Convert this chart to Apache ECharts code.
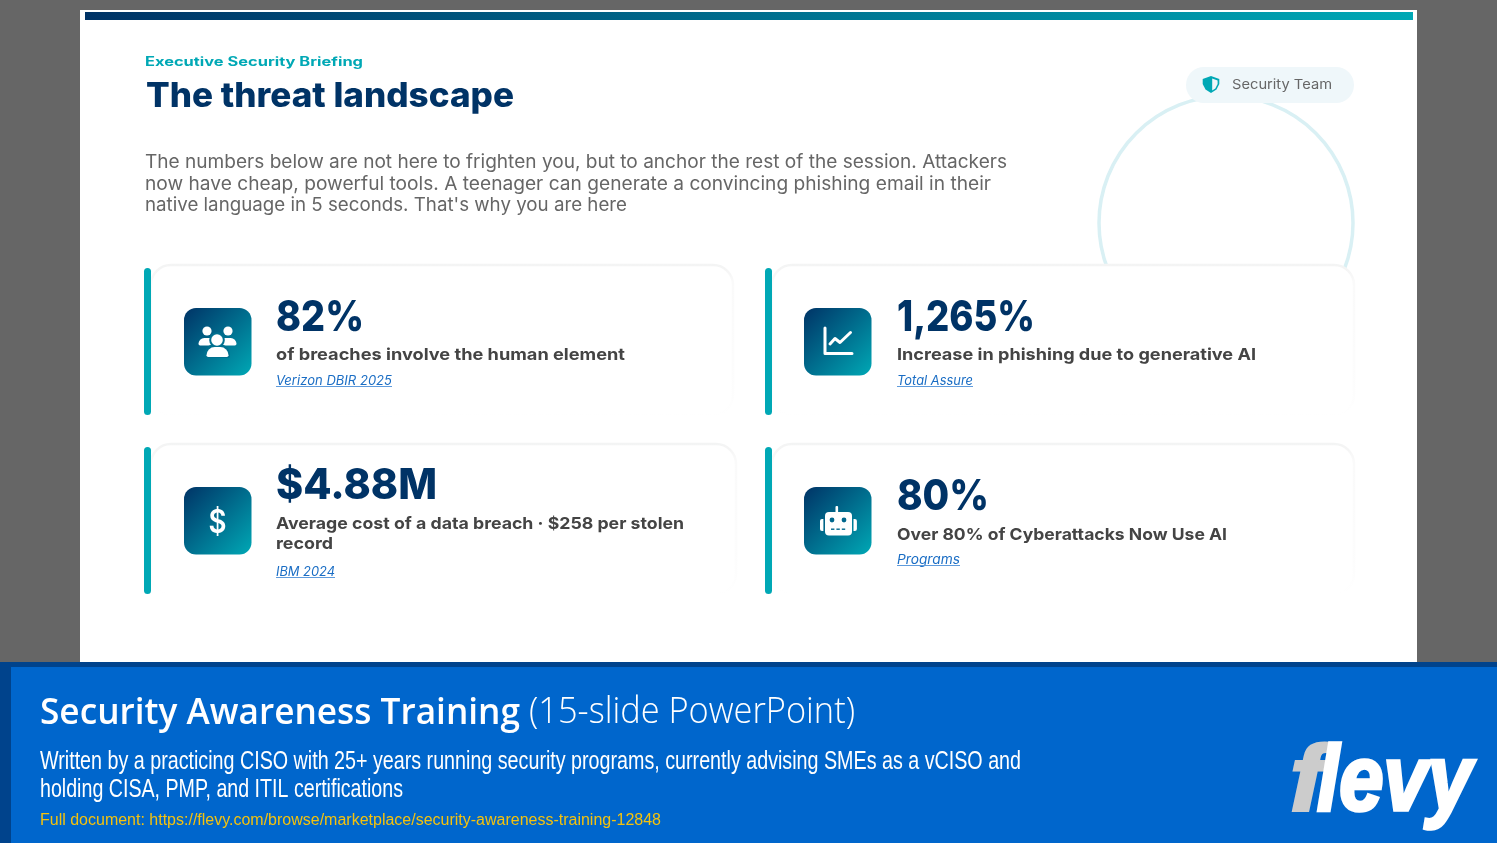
<!DOCTYPE html>
<html>
<head>
<meta charset="utf-8">
<title>The threat landscape</title>
<script src="https://cdn.jsdelivr.net/npm/echarts@6/dist/echarts.min.js"></script>
<style>
  html, body { margin: 0; padding: 0; background: #666; }
  #main { width: 1497px; height: 843px; }
</style>
</head>
<body>
<div id="main"></div>
<script>
// slide copy
const eyebrow = 'Executive Security Briefing';
const slideTitle = 'The threat landscape';
const badgeText = 'Security Team';
const introLines = [
  'The numbers below are not here to frighten you, but to anchor the rest of the session. Attackers',
  'now have cheap, powerful tools. A teenager can generate a convincing phishing email in their',
  "native language in 5 seconds. That's why you are here"
];

// the four stat cards
const statValues = ['82%', '1,265%', '$4.88M', '80%'];
const statLabels = [
  ['of breaches involve the human element'],
  ['Increase in phishing due to generative AI'],
  ['Average cost of a data breach · $258 per stolen', 'record'],
  ['Over 80% of Cyberattacks Now Use AI']
];
const statSources = ['Verizon DBIR 2025', 'Total Assure', 'IBM 2024', 'Programs'];

// banner copy
const bannerBold = 'Security Awareness Training';
const bannerLight = '(15-slide PowerPoint)';
const bannerLines = [
  'Written by a practicing CISO with 25+ years running security programs, currently advising SMEs as a vCISO and',
  'holding CISA, PMP, and ITIL certifications'
];
const bannerLink = 'Full document: https://flevy.com/browse/marketplace/security-awareness-training-12848';

const NAVY = '#003366', TEAL = '#00a8b5', GREY = '#666666', INK = '#444444', LINK = '#1a6dc4';
const SANS = 'Inter, sans-serif';

const measure = document.createElement('canvas').getContext('2d');

// text squeezed/stretched to the pixel width it has in the slide (no Montserrat here)
function label(text, x, y, font, fill, width) {
  measure.font = font;
  const w = measure.measureText(text).width;
  return {
    type: 'text', x: x, y: y, scaleX: width ? width / w : 1,
    style: { text: text, x: 0, y: 0, font: font, fill: fill, textAlign: 'left', textVerticalAlign: 'middle', verticalAlign: 'middle' }
  };
}
const rect = (x, y, w, h, fill, r, extra) => ({ type: 'rect', shape: { x: x, y: y, width: w, height: h, r: r || 0 }, style: Object.assign({ fill: fill }, extra) });
const dot = (cx, cy, r, fill) => ({ type: 'circle', shape: { cx: cx, cy: cy, r: r }, style: { fill: fill } });
const stroke = (points, width) => ({ type: 'polyline', shape: { points: points }, style: { stroke: '#fff', lineWidth: width, fill: null, lineCap: 'round', lineJoin: 'round' } });

// icons, drawn relative to the top left of their 67px tile
function peopleIcon(x, y) {
  const side = (cx) => [dot(x + cx, y + 23, 4.6, '#fff'), rect(x + cx - 8.5, y + 30, 17, 7.5, '#fff', [7, 7, 2, 2])];
  return side(23).concat(side(44), [
    dot(x + 33, y + 32, 7.8, '#00708f'),
    rect(x + 20, y + 36, 26, 14, '#00708f', [11, 11, 2, 2]),
    dot(x + 33, y + 32, 5.8, '#fff'),
    rect(x + 22.5, y + 39, 22, 10, '#fff', [9.5, 9.5, 2, 2])
  ]);
}
function chartIcon(x, y) {
  return [
    stroke([[x + 21, y + 20], [x + 21, y + 45.5], [x + 48, y + 45.5]], 3),
    stroke([[x + 26, y + 36], [x + 31, y + 30.5], [x + 36, y + 34.5], [x + 46.5, y + 24.5]], 3)
  ];
}
function dollarIcon(x, y) {
  return [label('$', x + 24.5, y + 36, '600 33px Inter, sans-serif', '#fff', 18)];
}
function robotIcon(x, y) {
  const eye = '#00678d';
  return [
    rect(x + 31.5, y + 19, 2.6, 7, '#fff', 1),
    rect(x + 21, y + 25, 27, 23.5, '#fff', 4),
    rect(x + 16, y + 32, 3.4, 12, '#fff', [2, 0, 0, 2]),
    rect(x + 49.5, y + 32, 3.4, 12, '#fff', [0, 2, 2, 0]),
    dot(x + 28, y + 33, 2.4, eye),
    dot(x + 40, y + 33, 2.4, eye),
    rect(x + 27, y + 41.5, 3.4, 1.4, eye),
    rect(x + 32.4, y + 41.5, 3.4, 1.4, eye),
    rect(x + 37.8, y + 41.5, 3.4, 1.4, eye)
  ];
}

// layout per card: tile origin, right edge, text line positions [centre y, width]
const cardLayout = [
  { x: 144, y: 268, right: 733, icon: peopleIcon, tile: [184, 308], tx: 276, value: [318, 88], lines: [[355, 349]], src: [381, 116] },
  { x: 765, y: 268, right: 1354, icon: chartIcon, tile: [804, 308], tx: 897, value: [318, 138], lines: [[355, 359]], src: [381, 76] },
  { x: 144, y: 447, right: 736, icon: dollarIcon, tile: [184, 487], tx: 276, value: [486, 161], lines: [[524, 408], [544, 57]], src: [572, 59] },
  { x: 765, y: 447, right: 1354, icon: robotIcon, tile: [804, 487], tx: 897, value: [497, 92], lines: [[535, 330]], src: [560, 63] }
];

function buildCard(i) {
  const c = cardLayout[i];
  const fade = new echarts.graphic.LinearGradient(0, 0, 0, 1, [
    { offset: 0, color: '#f3f4f4' }, { offset: 0.04, color: '#f5f5f5' }, { offset: 0.12, color: '#fafafa' }, { offset: 0.85, color: '#fdfdfd' }, { offset: 1, color: '#ffffff' }
  ]);
  const tileFill = new echarts.graphic.LinearGradient(0, 0, 1, 1, [
    { offset: 0, color: NAVY }, { offset: 1, color: TEAL }
  ]);
  let els = [
    rect(c.x + 7, c.y - 3, c.right - c.x - 7, 150, '#fff', 20, { stroke: fade, lineWidth: 2.5 }),
    rect(c.x, c.y, 7, 147, TEAL, 3.5),
    rect(c.tile[0], c.tile[1], 67.5, 67.5, tileFill, 12)
  ];
  els = els.concat(c.icon(c.tile[0], c.tile[1]));
  els.push(label(statValues[i], c.tx, c.value[0], '800 43px ' + SANS, NAVY, c.value[1]));
  statLabels[i].forEach((line, k) => {
    els.push(label(line, c.tx, c.lines[k][0], '700 16.5px ' + SANS, INK, c.lines[k][1]));
  });
  els.push(label(statSources[i], c.tx, c.src[0], 'italic 400 13px ' + SANS, LINK, c.src[1]));
  els.push({ type: 'line', shape: { x1: c.tx, y1: c.src[0] + 5.5, x2: c.tx + c.src[1], y2: c.src[0] + 5.5 }, style: { stroke: '#5f9bdc', lineWidth: 1 } });
  return els;
}

const topBar = new echarts.graphic.LinearGradient(0, 0, 1, 0, [
  { offset: 0, color: NAVY }, { offset: 1, color: TEAL }
]);

let elements = [
  rect(80, 10, 1337, 660, '#fff'),
  rect(85, 12, 1328, 8, topBar),
  { type: 'circle', shape: { cx: 1226, cy: 223, r: 127 }, style: { fill: null, stroke: '#d9f0f4', lineWidth: 3.5 } },
  rect(1186, 67, 168, 36, '#eff7fa', 18),
  { type: 'polygon', shape: { points: [[1211, 76], [1219.3, 79], [1219.3, 84], [1216.5, 89.5], [1211, 93], [1205.5, 89.5], [1202.7, 84], [1202.7, 79]] }, style: { fill: TEAL } },
  { type: 'polygon', shape: { points: [[1212.2, 78.6], [1217.6, 80.4], [1217.6, 84], [1215.3, 88.4], [1212.2, 90.6]] }, style: { fill: '#eff7fa' } },
  label(badgeText, 1232, 85, '400 13.5px ' + SANS, GREY, 100),
  label(eyebrow, 145, 62.5, '700 12.5px ' + SANS, TEAL, 218),
  label(slideTitle, 146, 97, '800 34px ' + SANS, NAVY, 368),
  label(introLines[0], 145, 162, '400 18.6px ' + SANS, GREY, 862),
  label(introLines[1], 145, 184, '400 18.6px ' + SANS, GREY, 846),
  label(introLines[2], 145, 205, '400 18.6px ' + SANS, GREY, 482)
];
cardLayout.forEach((c, i) => { elements = elements.concat(buildCard(i)); });

elements = elements.concat([
  rect(0, 662, 1497, 181, '#00438c'),
  rect(11, 667, 1486, 176, '#0066cc'),
  label(bannerBold, 40, 714, '600 36px "Open Sans", sans-serif', '#fff', 480),
  label(bannerLight, 529, 713, '300 36px "Open Sans", sans-serif', '#fff', 326),
  label(bannerLines[0], 40, 762, '400 25px "Liberation Sans", sans-serif', '#fff', 981),
  label(bannerLines[1], 40, 790, '400 25px "Liberation Sans", sans-serif', '#fff', 363),
  label(bannerLink, 40, 821, '400 16px "Liberation Sans", sans-serif', '#f4c20d', 621)
]);

// flevy word mark
const logoFont = 'italic 700 92px "Liberation Sans", sans-serif';
const logoF = label('f', 1290, 785, logoFont, '#cccccc', 34);
logoF.style.stroke = '#cccccc'; logoF.style.lineWidth = 3;
const logoRest = label('levy', 1317, 785, logoFont, '#ffffff', 155);
logoRest.style.stroke = '#ffffff'; logoRest.style.lineWidth = 3.5;
elements.push(logoF, logoRest);

const chart = echarts.init(document.getElementById('main'));
chart.setOption({
  backgroundColor: '#666666',
  animation: false,
  graphic: { elements: elements }
});
</script>
</body>
</html>
